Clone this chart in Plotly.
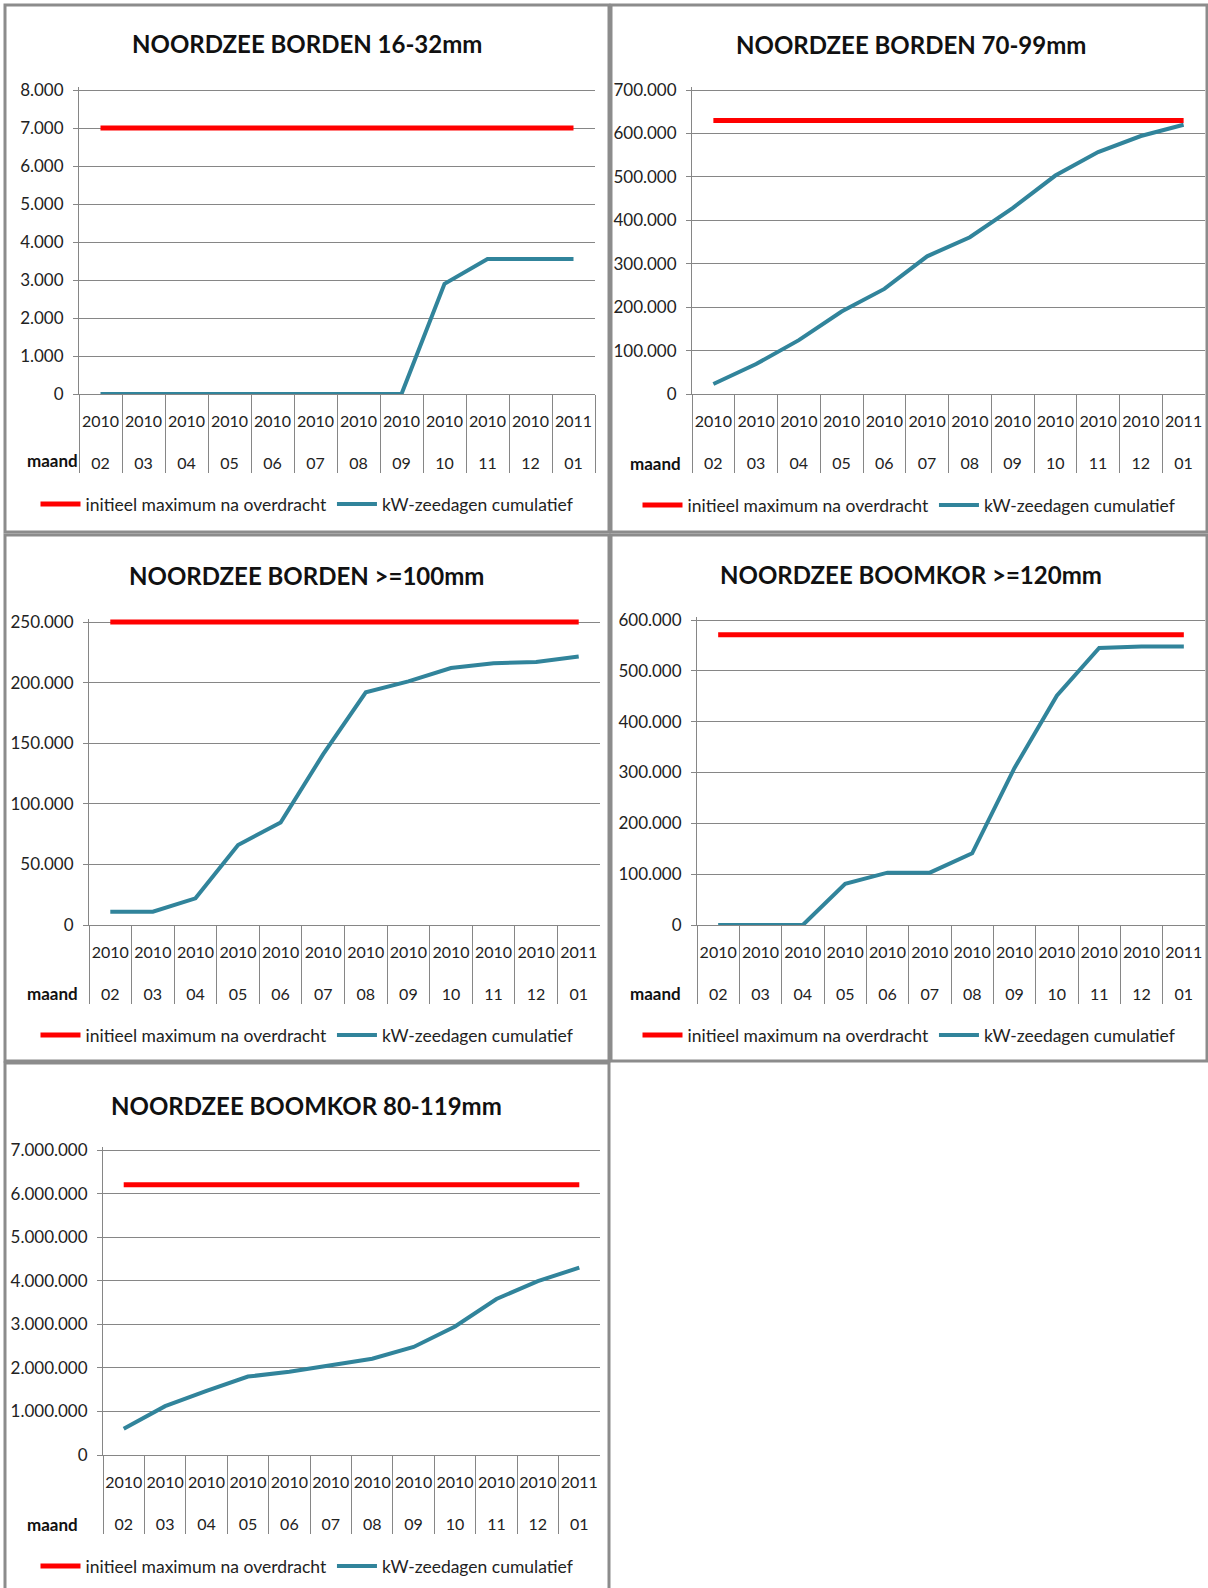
import plotly.graph_objects as go

W, H = 1208, 1588

# ---------------- data ----------------
years = ["2010", "2010", "2010", "2010", "2010", "2010", "2010", "2010", "2010", "2010", "2010", "2011"]
months = ["02", "03", "04", "05", "06", "07", "08", "09", "10", "11", "12", "01"]
categories = [f"{y}-{m}" for y, m in zip(years, months)]
tick_text = [f"{y}<br><br>{m}" for y, m in zip(years, months)]

titles = [
    "NOORDZEE BORDEN 16-32mm",
    "NOORDZEE BORDEN 70-99mm",
    "NOORDZEE BORDEN >=100mm",
    "NOORDZEE BOOMKOR >=120mm",
    "NOORDZEE BOOMKOR 80-119mm",
]
legend_names = ["initieel maximum na overdracht", "kW-zeedagen cumulatief"]

max_borden_16_32 = [7000, 7000, 7000, 7000, 7000, 7000, 7000, 7000, 7000, 7000, 7000, 7000]
cum_borden_16_32 = [0, 0, 0, 0, 0, 0, 0, 0, 2900, 3550, 3550, 3550]

max_borden_70_99 = [630000, 630000, 630000, 630000, 630000, 630000, 630000, 630000, 630000, 630000, 630000, 630000]
cum_borden_70_99 = [23000, 69000, 124000, 190000, 242000, 317000, 361000, 428000, 503000, 557000, 594000, 620000]

max_borden_100 = [250000, 250000, 250000, 250000, 250000, 250000, 250000, 250000, 250000, 250000, 250000, 250000]
cum_borden_100 = [11000, 11000, 22000, 66000, 84500, 141000, 192000, 201000, 212000, 216000, 217000, 221500]

max_boomkor_120 = [571000, 571000, 571000, 571000, 571000, 571000, 571000, 571000, 571000, 571000, 571000, 571000]
cum_boomkor_120 = [0, 0, 0, 81000, 103000, 103000, 141000, 309000, 451000, 545000, 548000, 548000]

max_boomkor_80_119 = [6200000, 6200000, 6200000, 6200000, 6200000, 6200000, 6200000, 6200000, 6200000, 6200000, 6200000, 6200000]
cum_boomkor_80_119 = [600000, 1120000, 1470000, 1800000, 1910000, 2070000, 2210000, 2480000, 2950000, 3580000, 3990000, 4300000]

max_series = [max_borden_16_32, max_borden_70_99, max_borden_100, max_boomkor_120, max_boomkor_80_119]
cum_series = [cum_borden_16_32, cum_borden_70_99, cum_borden_100, cum_boomkor_120, cum_boomkor_80_119]
y_max = [8000, 700000, 250000, 600000, 7000000]
y_step = [1000, 100000, 50000, 100000, 1000000]

# ---------------- layout geometry (pixels) ----------------
panels = [  # border box (x0, y0, x1, y1)
    (5, 5, 609, 532),
    (611, 5, 1207, 532),
    (5, 535, 609, 1061),
    (611, 535, 1207, 1061),
    (5, 1063, 609, 1592),
]
plots = [  # plot area (x0, y0, x1, y1)
    (79, 87, 595, 394),
    (692, 87, 1205, 394),
    (89, 619, 600, 925),
    (697, 617, 1205, 925),
    (103, 1147, 600, 1455),
]
HEAD = 3  # px of headroom above the top gridline so thick lines are not clipped
title_pos = [(307, 44), (911, 45), (306, 575), (911, 574), (306, 1105)]
legend_y = [504, 505, 1035, 1035, 1566]
maand_pos = [(25, 461), (628, 463), (25, 993), (628, 993), (25, 1524)]

RED = "#FF0000"
TEAL = "#31849B"
GRID = "#868686"
FONT = "Lato"

def px(x):
    return x / W

def py(y):
    return 1 - y / H

fig = go.Figure()
layout = dict(
    width=W, height=H, autosize=False,
    margin=dict(l=0, r=0, t=0, b=0, pad=0),
    paper_bgcolor="white", plot_bgcolor="white",
    separators=",.",
    font=dict(family=FONT, size=16, color="#222222"),
    showlegend=True,
    shapes=[], annotations=[],
)

for i in range(5):
    n = "" if i == 0 else str(i + 1)
    xa, ya = "x" + n, "y" + n
    leg = "legend" + n
    fig.add_trace(go.Scatter(
        x=categories, y=max_series[i], mode="lines", name=legend_names[0],
        line=dict(color=RED, width=5), xaxis=xa, yaxis=ya, legend=leg,
    ))
    fig.add_trace(go.Scatter(
        x=categories, y=cum_series[i], mode="lines", name=legend_names[1],
        line=dict(color=TEAL, width=4), xaxis=xa, yaxis=ya, legend=leg,
    ))
    x0, y0, x1, y1 = plots[i]
    top = y_max[i] * (1 + HEAD / (y1 - y0 - HEAD))
    layout["xaxis" + n] = dict(
        domain=[px(x0), px(x1)], anchor=ya, type="category",
        categoryorder="array", categoryarray=categories,
        range=[-0.5, len(categories) - 0.5],
        tickmode="array", tickvals=categories, ticktext=tick_text,
        tickson="boundaries", ticks="outside", ticklen=78, tickwidth=1,
        tickcolor=GRID, showgrid=False, showline=True, linecolor=GRID,
        linewidth=1, tickfont=dict(size=16, color="#222222"),
        tickangle=0, ticklabelstandoff=13, automargin=False,
        zeroline=False, fixedrange=True,
    )
    layout["yaxis" + n] = dict(
        domain=[py(y1), py(y0)], anchor=xa,
        range=[0, top], dtick=y_step[i], tick0=0,
        tickformat=",d", showgrid=True, gridcolor=GRID, gridwidth=1,
        showline=True, linecolor=GRID, linewidth=1,
        ticks="outside", ticklen=5, tickcolor=GRID,
        tickfont=dict(size=17, color="#222222"), zeroline=False,
        ticklabelstandoff=6, automargin=False, fixedrange=True,
    )
    bx0, by0, bx1, by1 = panels[i]
    layout["shapes"].append(dict(
        type="rect", xref="paper", yref="paper",
        x0=px(bx0), x1=px(bx1), y0=py(by1), y1=py(by0),
        line=dict(color="#8C8C8C", width=3), fillcolor="rgba(0,0,0,0)", layer="below",
    ))
    tx, ty = title_pos[i]
    layout["annotations"].append(dict(
        text="<b>" + titles[i].replace(">", "&gt;") + "</b>", xref="paper", yref="paper",
        x=px(tx), y=py(ty), xanchor="center", yanchor="middle", showarrow=False,
        font=dict(size=24, color="#111111", family=FONT),
    ))
    mx, my = maand_pos[i]
    layout["annotations"].append(dict(
        text="<b>maand</b>", xref="paper", yref="paper",
        x=px(mx), y=py(my), xanchor="left", yanchor="middle", showarrow=False,
        font=dict(size=17, color="#111111", family=FONT),
    ))
    layout[leg] = dict(
        orientation="h", x=px((bx0 + bx1) / 2), xanchor="center",
        y=py(legend_y[i]), yanchor="middle", bgcolor="rgba(0,0,0,0)",
        font=dict(size=17.5, color="#222222", family=FONT), itemwidth=40,
        tracegroupgap=0,
    )

fig.update_layout(**layout)
fig.write_html(
    "out.html",
    config={"displayModeBar": False},
    post_script="document.body.style.margin='0';document.body.style.padding='0';",
)
